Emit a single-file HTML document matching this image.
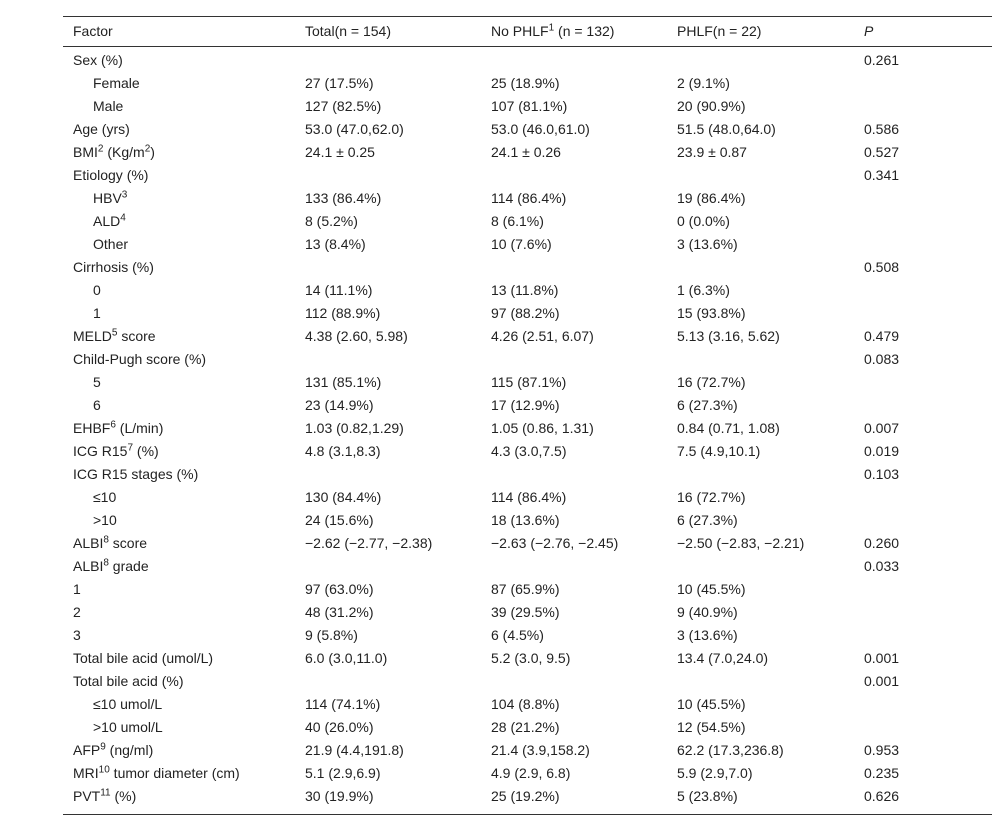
<!DOCTYPE html>
<html><head><meta charset="utf-8"><style>
body{margin:0;width:1000px;height:829px;background:#fff;font-family:"Liberation Sans",sans-serif;font-size:14px;color:#222;position:relative;overflow:hidden}
.l{position:absolute;left:63px;width:929px;height:1px;background:#333}
.r{position:absolute;left:0;width:1000px;height:23px;line-height:23px}
.r span{position:absolute;white-space:nowrap}
.c0{left:73px}.i{left:93px}.c1{left:305px}.c2{left:491px}.c3{left:677px}.c4{left:864px}
sup{font-size:10px;line-height:0}
</style></head><body>
<div class="l" style="top:16px"></div>
<div class="l" style="top:46px"></div>
<div class="l" style="top:814px"></div>
<div class="r" style="top:20px"><span class="c0">Factor</span><span class="c1">Total(n = 154)</span><span class="c2">No PHLF<sup>1</sup> (n = 132)</span><span class="c3">PHLF(n = 22)</span><span class="c4"><i>P</i></span></div>
<div id="t"></div>
<script>
const rows=[
["Sex (%)","","","","0.261"],
["*Female","27 (17.5%)","25 (18.9%)","2 (9.1%)",""],
["*Male","127 (82.5%)","107 (81.1%)","20 (90.9%)",""],
["Age (yrs)","53.0 (47.0,62.0)","53.0 (46.0,61.0)","51.5 (48.0,64.0)","0.586"],
["BMI<sup>2</sup> (Kg/m<sup>2</sup>)","24.1 ± 0.25","24.1 ± 0.26","23.9 ± 0.87","0.527"],
["Etiology (%)","","","","0.341"],
["*HBV<sup>3</sup>","133 (86.4%)","114 (86.4%)","19 (86.4%)",""],
["*ALD<sup>4</sup>","8 (5.2%)","8 (6.1%)","0 (0.0%)",""],
["*Other","13 (8.4%)","10 (7.6%)","3 (13.6%)",""],
["Cirrhosis (%)","","","","0.508"],
["*0","14 (11.1%)","13 (11.8%)","1 (6.3%)",""],
["*1","112 (88.9%)","97 (88.2%)","15 (93.8%)",""],
["MELD<sup>5</sup> score","4.38 (2.60, 5.98)","4.26 (2.51, 6.07)","5.13 (3.16, 5.62)","0.479"],
["Child-Pugh score (%)","","","","0.083"],
["*5","131 (85.1%)","115 (87.1%)","16 (72.7%)",""],
["*6","23 (14.9%)","17 (12.9%)","6 (27.3%)",""],
["EHBF<sup>6</sup> (L/min)","1.03 (0.82,1.29)","1.05 (0.86, 1.31)","0.84 (0.71, 1.08)","0.007"],
["ICG R15<sup>7</sup> (%)","4.8 (3.1,8.3)","4.3 (3.0,7.5)","7.5 (4.9,10.1)","0.019"],
["ICG R15 stages (%)","","","","0.103"],
["*≤10","130 (84.4%)","114 (86.4%)","16 (72.7%)",""],
["*&gt;10","24 (15.6%)","18 (13.6%)","6 (27.3%)",""],
["ALBI<sup>8</sup> score","−2.62 (−2.77, −2.38)","−2.63 (−2.76, −2.45)","−2.50 (−2.83, −2.21)","0.260"],
["ALBI<sup>8</sup> grade","","","","0.033"],
["1","97 (63.0%)","87 (65.9%)","10 (45.5%)",""],
["2","48 (31.2%)","39 (29.5%)","9 (40.9%)",""],
["3","9 (5.8%)","6 (4.5%)","3 (13.6%)",""],
["Total bile acid (umol/L)","6.0 (3.0,11.0)","5.2 (3.0, 9.5)","13.4 (7.0,24.0)","0.001"],
["Total bile acid (%)","","","","0.001"],
["*≤10 umol/L","114 (74.1%)","104 (8.8%)","10 (45.5%)",""],
["*&gt;10 umol/L","40 (26.0%)","28 (21.2%)","12 (54.5%)",""],
["AFP<sup>9</sup> (ng/ml)","21.9 (4.4,191.8)","21.4 (3.9,158.2)","62.2 (17.3,236.8)","0.953"],
["MRI<sup>10</sup> tumor diameter (cm)","5.1 (2.9,6.9)","4.9 (2.9, 6.8)","5.9 (2.9,7.0)","0.235"],
["PVT<sup>11</sup> (%)","30 (19.9%)","25 (19.2%)","5 (23.8%)","0.626"]];
let h="";rows.forEach((r,i)=>{let f=r[0],c="c0";if(f[0]=="*"){f=f.slice(1);c="i";}
h+=`<div class="r" style="top:${49+23*i}px"><span class="${c}">${f}</span><span class="c1">${r[1]}</span><span class="c2">${r[2]}</span><span class="c3">${r[3]}</span><span class="c4">${r[4]}</span></div>`;});
document.getElementById("t").innerHTML=h;
</script>
</body></html>
